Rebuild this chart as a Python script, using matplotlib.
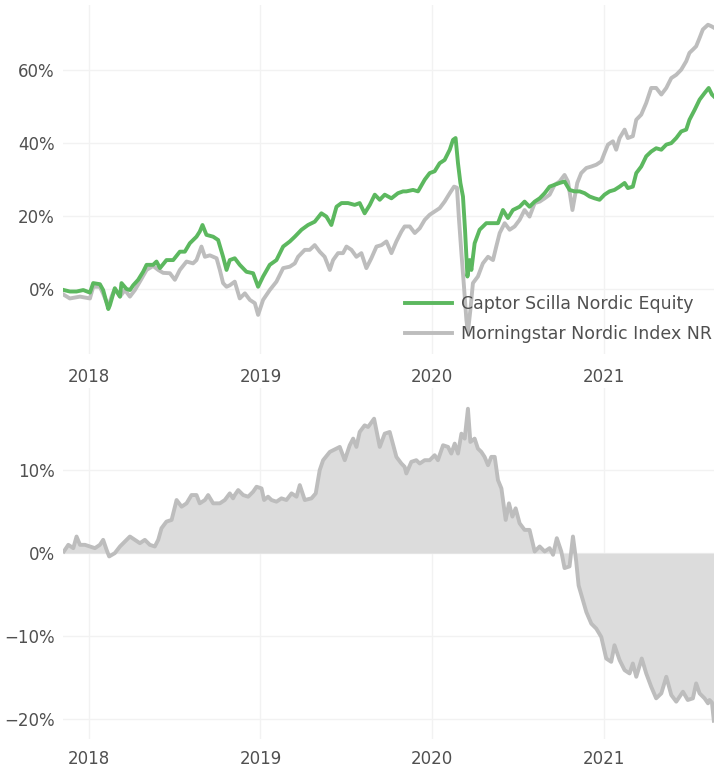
import matplotlib
matplotlib.use("Agg")
import matplotlib.pyplot as plt
from matplotlib.ticker import FuncFormatter

# ---------------- data (x in decimal years, values in %) ----------------
series_names = ["Captor Scilla Nordic Equity", "Morningstar Nordic Index NR"]
year_ticks = [2018, 2019, 2020, 2021]
year_labels = ["2018", "2019", "2020", "2021"]

fund_t = [2017.854, 2017.889, 2017.928, 2017.967, 2018.006, 2018.025, 2018.064, 2018.083, 2018.113, 2018.122,
          2018.151, 2018.181, 2018.190, 2018.219, 2018.239, 2018.258, 2018.287, 2018.316, 2018.336, 2018.374,
          2018.394, 2018.414, 2018.452, 2018.491, 2018.530, 2018.559, 2018.588, 2018.627, 2018.646, 2018.662,
          2018.685, 2018.724, 2018.753, 2018.782, 2018.802, 2018.821,
          2018.850, 2018.879, 2018.918, 2018.957, 2018.986, 2019.015, 2019.054, 2019.093, 2019.132, 2019.171,
          2019.200, 2019.239, 2019.277, 2019.316, 2019.355, 2019.384, 2019.413, 2019.443, 2019.472, 2019.510,
          2019.549, 2019.578, 2019.607, 2019.637, 2019.666, 2019.695, 2019.724, 2019.763, 2019.801, 2019.831,
          2019.850, 2019.889, 2019.918, 2019.957, 2019.986, 2020.015, 2020.044, 2020.073, 2020.103, 2020.122,
          2020.137, 2020.151, 2020.165, 2020.180, 2020.192, 2020.206, 2020.219, 2020.229, 2020.248, 2020.277,
          2020.316, 2020.355, 2020.384, 2020.413, 2020.442, 2020.471, 2020.510, 2020.539, 2020.568, 2020.598,
          2020.627, 2020.656, 2020.685, 2020.743, 2020.772,
          2020.801, 2020.830, 2020.860, 2020.889, 2020.918, 2020.947, 2020.976, 2021.005, 2021.034, 2021.063,
          2021.093, 2021.122, 2021.141, 2021.170, 2021.190, 2021.219, 2021.248, 2021.277, 2021.306, 2021.336,
          2021.365, 2021.394, 2021.423, 2021.452, 2021.481, 2021.500, 2021.530, 2021.559, 2021.588, 2021.612,
          2021.631, 2021.642]
fund_v = [-0.3, -0.7, -0.7, -0.3, -1.0, 1.6, 1.3, -0.3, -5.5, -4.5,
          0.2, -2.1, 1.6, 0.0, -0.3, 1.0, 2.5, 4.7, 6.6, 6.6,
          7.5, 5.7, 7.9, 7.9, 10.2, 10.2, 12.5, 14.3, 15.7, 17.5,
          14.8, 14.3, 13.4, 8.8, 5.2, 7.9,
          8.4, 6.6, 4.7, 4.3, 0.6, 3.4, 6.6, 7.9, 11.6, 13.0,
          14.3, 16.2, 17.5, 18.4, 20.7, 19.8, 17.5, 22.5, 23.5, 23.5,
          23.0, 23.5, 20.7, 23.0, 25.8, 24.4, 25.8, 24.8, 26.2, 26.7,
          26.7, 27.1, 26.7, 29.9, 31.7, 32.2, 34.4, 35.3, 38.1, 40.8,
          41.3, 34.4, 29.0, 25.3, 16.2, 3.4, 7.9, 5.2, 12.5, 16.2,
          18.0, 18.0, 18.0, 21.6, 19.4, 21.6, 22.5, 23.9, 22.5, 23.9,
          24.8, 26.2, 28.0, 29.0, 29.4,
          27.1, 26.7, 26.7, 26.2, 25.3, 24.8, 24.4, 25.8, 26.7, 27.1,
          28.0, 29.0, 27.6, 28.0, 31.7, 33.5, 36.3, 37.6, 38.5, 38.1,
          39.5, 39.9, 41.3, 43.1, 43.6, 46.3, 49.0, 51.8, 53.6, 55.0,
          53.2, 52.7]

index_t = [2017.854, 2017.889, 2017.948, 2018.006, 2018.025, 2018.064, 2018.083, 2018.113, 2018.132, 2018.151,
           2018.181, 2018.210, 2018.239, 2018.268, 2018.297, 2018.336, 2018.374, 2018.404, 2018.433, 2018.472,
           2018.501, 2018.530, 2018.569, 2018.607, 2018.627, 2018.656, 2018.676, 2018.705, 2018.744, 2018.763,
           2018.782, 2018.802, 2018.821,
           2018.850, 2018.879, 2018.909, 2018.938, 2018.967, 2018.986, 2019.015, 2019.054, 2019.093, 2019.132,
           2019.171, 2019.200, 2019.219, 2019.258, 2019.287, 2019.316, 2019.345, 2019.374, 2019.404, 2019.423,
           2019.452, 2019.481, 2019.501, 2019.530, 2019.559, 2019.588, 2019.617, 2019.646, 2019.676, 2019.705,
           2019.734, 2019.763, 2019.792, 2019.821, 2019.840,
           2019.870, 2019.899, 2019.928, 2019.957, 2019.986, 2020.015, 2020.044, 2020.073, 2020.103, 2020.128,
           2020.145, 2020.157, 2020.171, 2020.186, 2020.200, 2020.209, 2020.223, 2020.238, 2020.267, 2020.296,
           2020.326, 2020.355, 2020.374, 2020.394, 2020.423, 2020.452, 2020.481, 2020.510, 2020.539, 2020.568,
           2020.598, 2020.627, 2020.656, 2020.685, 2020.714, 2020.743, 2020.772,
           2020.792, 2020.818, 2020.846, 2020.869, 2020.899, 2020.928, 2020.957, 2020.986, 2021.005, 2021.025,
           2021.054, 2021.073, 2021.093, 2021.122, 2021.141, 2021.170, 2021.190, 2021.219, 2021.248, 2021.277,
           2021.306, 2021.336, 2021.365, 2021.394, 2021.423, 2021.452, 2021.481, 2021.500, 2021.520, 2021.539,
           2021.559, 2021.578, 2021.608, 2021.627, 2021.642]
index_v = [-1.6, -2.6, -2.1, -2.6, 0.6, 0.6, -1.3, -4.8, -2.1, 0.0,
           -2.1, -0.3, -2.1, -0.3, 2.0, 5.2, 6.3, 5.2, 4.4, 4.3,
           2.5, 5.2, 7.5, 7.0, 7.9, 11.6, 8.8, 9.2, 8.4, 5.2,
           1.6, 0.6, 1.0,
           2.0, -2.6, -1.2, -3.0, -3.9, -7.1, -3.0, -0.3, 2.0, 5.7,
           6.1, 7.0, 8.8, 10.7, 10.7, 12.0, 10.2, 8.8, 5.2, 7.9,
           9.8, 9.8, 11.6, 10.7, 8.8, 9.8, 5.7, 8.4, 11.6, 12.0,
           13.0, 9.8, 13.0, 15.7, 17.1,
           17.1, 15.3, 16.6, 18.9, 20.3, 21.2, 22.1, 23.9, 26.2, 28.0,
           27.7, 18.9, 9.8, 0.6, -8.5, -11.8, -5.8, 1.6, 3.4, 7.0,
           8.8, 7.9, 11.6, 15.3, 18.0, 16.2, 17.1, 18.9, 21.6, 19.8,
           23.5, 23.9, 24.8, 25.8, 28.5, 29.4, 31.2,
           29.4, 21.6, 29.0, 31.7, 33.1, 33.5, 34.0, 34.9, 37.2, 39.5,
           40.4, 38.1, 41.3, 43.6, 41.3, 41.8, 46.3, 47.7, 50.9, 55.0,
           55.0, 53.2, 55.0, 57.7, 58.6, 60.0, 62.3, 64.6, 65.5, 66.4,
           68.7, 71.0, 72.3, 71.9, 71.5]

excess_t = [2017.854, 2017.880, 2017.909, 2017.928, 2017.948, 2017.977, 2018.006, 2018.035, 2018.064, 2018.083,
            2018.103, 2018.118, 2018.151, 2018.181, 2018.210, 2018.239, 2018.268, 2018.297, 2018.326, 2018.355,
            2018.384, 2018.404, 2018.423, 2018.452, 2018.482, 2018.511, 2018.540, 2018.569, 2018.598, 2018.627,
            2018.646, 2018.676, 2018.695, 2018.724, 2018.763, 2018.792, 2018.821, 2018.840,
            2018.850, 2018.870, 2018.899, 2018.928, 2018.957, 2018.977, 2019.006, 2019.021, 2019.044, 2019.064,
            2019.093, 2019.122, 2019.151, 2019.181, 2019.210, 2019.229, 2019.258, 2019.297, 2019.322, 2019.345,
            2019.365, 2019.404, 2019.443, 2019.462, 2019.491, 2019.520, 2019.540, 2019.559, 2019.578, 2019.607,
            2019.627, 2019.662, 2019.695, 2019.724, 2019.753, 2019.792, 2019.821, 2019.840,
            2019.850, 2019.879, 2019.908, 2019.928, 2019.957, 2019.986, 2020.015, 2020.034, 2020.064, 2020.093,
            2020.112, 2020.132, 2020.151, 2020.171, 2020.190, 2020.209, 2020.223, 2020.248, 2020.267, 2020.287,
            2020.306, 2020.326, 2020.345, 2020.365, 2020.384, 2020.404, 2020.429, 2020.448, 2020.468, 2020.487,
            2020.510, 2020.539, 2020.568, 2020.598, 2020.627, 2020.656, 2020.685, 2020.705, 2020.727, 2020.753,
            2020.772, 2020.801, 2020.821,
            2020.840, 2020.854, 2020.879, 2020.899, 2020.928, 2020.957, 2020.986, 2021.015, 2021.044, 2021.063,
            2021.093, 2021.122, 2021.151, 2021.170, 2021.190, 2021.222, 2021.248, 2021.277, 2021.306, 2021.336,
            2021.365, 2021.394, 2021.423, 2021.462, 2021.490, 2021.520, 2021.539, 2021.559, 2021.588, 2021.608,
            2021.617, 2021.631, 2021.642]
excess_v = [0.2, 1.0, 0.6, 2.0, 1.0, 1.0, 0.8, 0.6, 1.0, 1.6,
            0.4, -0.4, 0.0, 0.8, 1.4, 2.0, 1.6, 1.2, 1.6, 1.0,
            0.8, 1.6, 3.0, 3.8, 4.0, 6.4, 5.6, 6.0, 7.0, 7.0,
            6.0, 6.4, 7.0, 6.0, 6.0, 6.4, 7.2, 6.6,
            7.0, 7.6, 7.0, 6.8, 7.4, 8.0, 7.8, 6.4, 6.8, 6.4,
            6.2, 6.6, 6.4, 7.2, 6.8, 8.2, 6.4, 6.6, 7.2, 10.0,
            11.2, 12.2, 12.6, 12.8, 11.2, 13.0, 13.8, 12.8, 14.6, 15.4,
            15.2, 16.2, 12.8, 14.4, 14.6, 11.6, 10.8, 10.4,
            9.6, 11.0, 11.2, 10.8, 11.2, 11.2, 11.8, 11.2, 13.0, 12.8,
            12.0, 13.2, 12.0, 14.4, 13.8, 17.4, 13.4, 13.8, 12.6, 12.2,
            11.6, 10.6, 11.6, 11.6, 8.8, 7.8, 4.0, 6.0, 4.4, 5.4,
            3.6, 2.8, 2.8, 0.2, 0.8, 0.2, 0.6, -0.2, 1.8, 0.2,
            -1.8, -1.6, 2.0,
            -1.0, -3.9, -5.7, -7.1, -8.5, -9.1, -10.1, -12.7, -13.1, -11.1,
            -12.9, -14.1, -14.5, -13.3, -14.9, -12.7, -14.5, -16.1, -17.5, -16.9,
            -14.9, -17.1, -17.9, -16.7, -17.7, -17.5, -15.7, -16.9, -17.5, -18.1,
            -17.7, -18.0, -20.2]

# ---------------- styling ----------------
GREEN = "#5cb85f"
GREY = "#bdbdbd"
FILL = "#dcdcdc"
TEXT = "#505050"
GRID = "#f2f2f2"

plt.rcParams["font.family"] = ["DejaVu Sans"]

W, H = 714, 767
fig = plt.figure(figsize=(W / 100, H / 100), dpi=100)
ax1 = fig.add_axes([63 / W, 1 - 354 / H, 651 / W, 349 / H])
ax2 = fig.add_axes([63 / W, 1 - 739 / H, 651 / W, 351 / H])

pct = FuncFormatter(lambda v, _: f"{v:.0f}%".replace("-", "\u2212"))

for ax, xpad in ((ax1, 10), (ax2, 8)):
    for s in ax.spines.values():
        s.set_visible(False)
    ax.set_xticks(year_ticks)
    ax.set_xticklabels(year_labels)
    ax.tick_params(length=0, labelsize=12, colors=TEXT)
    ax.tick_params(axis="x", pad=xpad)
    ax.tick_params(axis="y", pad=6)
    ax.yaxis.set_major_formatter(pct)
    ax.grid(True, color=GRID, linewidth=1)
    ax.set_axisbelow(True)
    ax.set_xlim(2017.849, 2021.643)

ax1.plot(fund_t, fund_v, color=GREEN, lw=2.8, label=series_names[0], zorder=3)
ax1.plot(index_t, index_v, color=GREY, lw=2.8, label=series_names[1], zorder=2)
ax1.set_ylim(-17.8, 77.7)
ax1.set_yticks([0, 20, 40, 60])
leg = ax1.legend(loc="upper left", bbox_to_anchor=(0.525, 0.170), frameon=False,
                 borderpad=0, borderaxespad=0, handlelength=2.7, handletextpad=0.52,
                 labelspacing=0.7, fontsize=12.5)
for t in leg.get_texts():
    t.set_color(TEXT)

ax2.fill_between(excess_t, excess_v, 0, color=FILL, linewidth=0, interpolate=True, zorder=1)
ax2.plot(excess_t, excess_v, color=GREY, lw=2.8, zorder=2)
ax2.set_ylim(-22.4, 19.9)
ax2.set_yticks([-20, -10, 0, 10])

fig.savefig("out.png", dpi=100)
